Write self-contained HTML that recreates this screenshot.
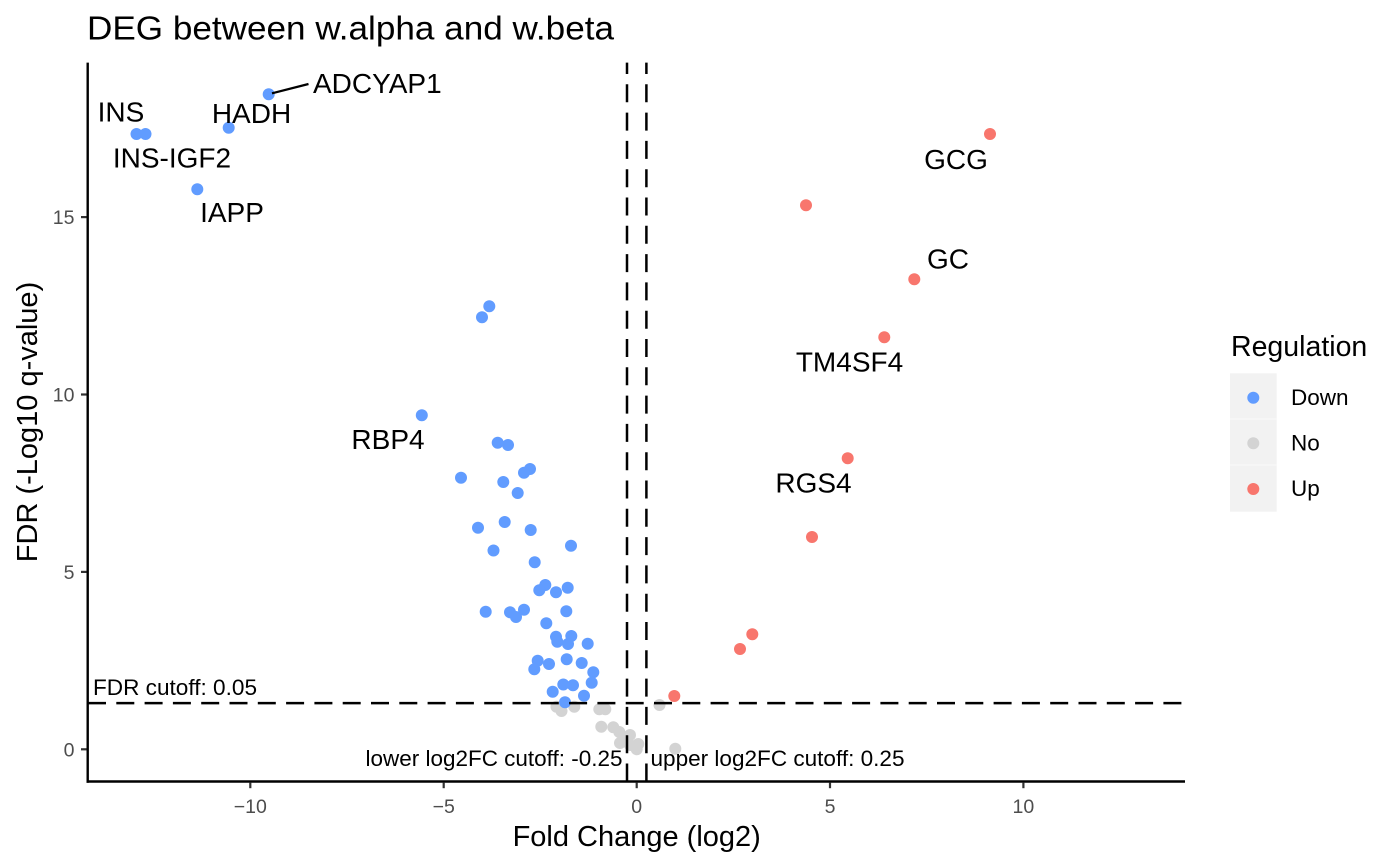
<!DOCTYPE html>
<html>
<head>
<meta charset="utf-8">
<style>
  html, body { margin: 0; padding: 0; background: #ffffff; }
  svg { display: block; }
  text { font-family: "Liberation Sans", Arial, Helvetica, sans-serif; }
</style>
</head>
<body>
<svg width="1400" height="866" viewBox="0 0 1400 866" xmlns="http://www.w3.org/2000/svg">
  <rect x="0" y="0" width="1400" height="866" fill="#ffffff"/>

  <text x="87" y="39.5" font-size="33.5" fill="#000" textLength="527" lengthAdjust="spacingAndGlyphs">DEG between w.alpha and w.beta</text>

  <g fill="#D3D3D3">
    <circle cx="556.5" cy="706.7" r="6"/>
    <circle cx="561.5" cy="711" r="6"/>
    <circle cx="574.3" cy="706.7" r="6"/>
    <circle cx="599.3" cy="709.3" r="6"/>
    <circle cx="605.3" cy="709.3" r="6"/>
    <circle cx="659.5" cy="705" r="6"/>
    <circle cx="601.3" cy="726.7" r="6"/>
    <circle cx="613.3" cy="727.3" r="6"/>
    <circle cx="619.3" cy="732" r="6"/>
    <circle cx="630" cy="735" r="6"/>
    <circle cx="623.3" cy="740" r="6"/>
    <circle cx="620" cy="743" r="6"/>
    <circle cx="630" cy="745" r="6"/>
    <circle cx="638.3" cy="744" r="6"/>
    <circle cx="636.7" cy="749.3" r="6"/>
    <circle cx="675.3" cy="748.7" r="6"/>
  </g>

  <g fill="#619CFF">
    <circle cx="268.7" cy="94.3" r="6"/>
    <circle cx="228.7" cy="127.7" r="6"/>
    <circle cx="136.5" cy="134" r="6"/>
    <circle cx="145.5" cy="134" r="6"/>
    <circle cx="197.3" cy="189.3" r="6"/>
    <circle cx="489.3" cy="306.3" r="6"/>
    <circle cx="482" cy="317.3" r="6"/>
    <circle cx="421.8" cy="415.3" r="6"/>
    <circle cx="497.7" cy="442.7" r="6"/>
    <circle cx="508" cy="445" r="6"/>
    <circle cx="530" cy="469" r="6"/>
    <circle cx="524" cy="472.7" r="6"/>
    <circle cx="461" cy="477.7" r="6"/>
    <circle cx="503.3" cy="482" r="6"/>
    <circle cx="517.7" cy="493" r="6"/>
    <circle cx="478" cy="527.7" r="6"/>
    <circle cx="504.7" cy="522" r="6"/>
    <circle cx="530.7" cy="530" r="6"/>
    <circle cx="571" cy="545.7" r="6"/>
    <circle cx="493.5" cy="550.5" r="6"/>
    <circle cx="534.7" cy="562.3" r="6"/>
    <circle cx="545.3" cy="585" r="6"/>
    <circle cx="539.3" cy="590.3" r="6"/>
    <circle cx="556" cy="592.3" r="6"/>
    <circle cx="567.7" cy="587.7" r="6"/>
    <circle cx="485.7" cy="611.7" r="6"/>
    <circle cx="510" cy="612.3" r="6"/>
    <circle cx="516" cy="617" r="6"/>
    <circle cx="524" cy="609.7" r="6"/>
    <circle cx="566.3" cy="611.3" r="6"/>
    <circle cx="546.3" cy="623.3" r="6"/>
    <circle cx="556" cy="636.7" r="6"/>
    <circle cx="557.3" cy="641.7" r="6"/>
    <circle cx="571.3" cy="636" r="6"/>
    <circle cx="568" cy="644" r="6"/>
    <circle cx="587.7" cy="643.7" r="6"/>
    <circle cx="537.7" cy="660.7" r="6"/>
    <circle cx="534.3" cy="669.3" r="6"/>
    <circle cx="549" cy="664" r="6"/>
    <circle cx="566.7" cy="659.3" r="6"/>
    <circle cx="581.7" cy="663" r="6"/>
    <circle cx="593.3" cy="672.3" r="6"/>
    <circle cx="591.7" cy="682.7" r="6"/>
    <circle cx="563.3" cy="684.5" r="6"/>
    <circle cx="573" cy="685.3" r="6"/>
    <circle cx="552.7" cy="691.7" r="6"/>
    <circle cx="584" cy="695.7" r="6"/>
    <circle cx="565" cy="702.3" r="6"/>
  </g>

  <g fill="#F8766D">
    <circle cx="990" cy="134" r="6"/>
    <circle cx="806" cy="205.3" r="6"/>
    <circle cx="914.3" cy="279.3" r="6"/>
    <circle cx="884.3" cy="337.3" r="6"/>
    <circle cx="847.7" cy="458.3" r="6"/>
    <circle cx="812" cy="537" r="6"/>
    <circle cx="752.3" cy="634.3" r="6"/>
    <circle cx="740" cy="649" r="6"/>
    <circle cx="674.3" cy="696" r="6"/>
  </g>

  <g stroke="#000" stroke-width="2.5" stroke-dasharray="18 10.3" fill="none">
    <line x1="88" y1="703.1" x2="1185" y2="703.1"/>
    <line x1="627.0" y1="781.5" x2="627.0" y2="62.6"/>
    <line x1="646.4" y1="781.5" x2="646.4" y2="62.6"/>
  </g>

  <text x="93" y="695" font-size="22" fill="#000" textLength="164" lengthAdjust="spacingAndGlyphs">FDR cutoff: 0.05</text>
  <text x="622.5" y="766" font-size="22" fill="#000" text-anchor="end" textLength="257" lengthAdjust="spacingAndGlyphs">lower log2FC cutoff: -0.25</text>
  <text x="650.5" y="766" font-size="22" fill="#000" textLength="254" lengthAdjust="spacingAndGlyphs">upper log2FC cutoff: 0.25</text>

  <line x1="272" y1="93.3" x2="308.5" y2="84" stroke="#000" stroke-width="2.2"/>
  <g font-size="28" fill="#000">
    <text x="313" y="93">ADCYAP1</text>
    <text x="121" y="121.5" text-anchor="middle">INS</text>
    <text x="251.5" y="123" text-anchor="middle">HADH</text>
    <text x="172" y="167.5" text-anchor="middle">INS-IGF2</text>
    <text x="232" y="222" text-anchor="middle">IAPP</text>
    <text x="388" y="449" text-anchor="middle">RBP4</text>
    <text x="956" y="169" text-anchor="middle">GCG</text>
    <text x="948" y="268.3" text-anchor="middle">GC</text>
    <text x="849.5" y="371.5" text-anchor="middle">TM4SF4</text>
    <text x="813.5" y="492.3" text-anchor="middle">RGS4</text>
  </g>

  <g stroke="#000" stroke-width="2.4" fill="none">
    <line x1="87.7" y1="62.6" x2="87.7" y2="782.7"/>
    <line x1="86.5" y1="781.5" x2="1185" y2="781.5"/>
  </g>
  <g stroke="#333333" stroke-width="2.2" fill="none">
    <line x1="250.3" y1="782.6" x2="250.3" y2="788.2"/>
    <line x1="443.7" y1="782.6" x2="443.7" y2="788.2"/>
    <line x1="636.7" y1="782.6" x2="636.7" y2="788.2"/>
    <line x1="830" y1="782.6" x2="830" y2="788.2"/>
    <line x1="1023.4" y1="782.6" x2="1023.4" y2="788.2"/>
    <line x1="81" y1="749.3" x2="86.6" y2="749.3"/>
    <line x1="81" y1="571.9" x2="86.6" y2="571.9"/>
    <line x1="81" y1="394.5" x2="86.6" y2="394.5"/>
    <line x1="81" y1="217.1" x2="86.6" y2="217.1"/>
  </g>
  <g font-size="19.5" fill="#4D4D4D" text-anchor="middle">
    <text x="250.3" y="813">−10</text>
    <text x="443.7" y="813">−5</text>
    <text x="636.7" y="813">0</text>
    <text x="830" y="813">5</text>
    <text x="1023.4" y="813">10</text>
  </g>
  <g font-size="19.5" fill="#4D4D4D" text-anchor="end">
    <text x="74.5" y="756.3">0</text>
    <text x="74.5" y="578.9">5</text>
    <text x="74.5" y="401.5">10</text>
    <text x="74.5" y="224.1">15</text>
  </g>

  <text x="636.7" y="846" font-size="29" fill="#000" text-anchor="middle">Fold Change (log2)</text>
  <text transform="translate(37,422) rotate(-90)" x="0" y="0" font-size="29" fill="#000" text-anchor="middle">FDR (-Log10 q-value)</text>

  <text x="1231" y="356" font-size="28.5" fill="#000">Regulation</text>
  <rect x="1230" y="373.3" width="46.7" height="138.4" fill="#F2F2F2"/>
  <line x1="1230" y1="419" x2="1276.7" y2="419" stroke="#ffffff" stroke-width="0.6"/>
  <line x1="1230" y1="465" x2="1276.7" y2="465" stroke="#ffffff" stroke-width="0.6"/>
  <circle cx="1253.3" cy="397.7" r="6" fill="#619CFF"/>
  <circle cx="1253.3" cy="443.3" r="6" fill="#D3D3D3"/>
  <circle cx="1253.3" cy="489" r="6" fill="#F8766D"/>
  <g font-size="22.5" fill="#000">
    <text x="1291" y="405">Down</text>
    <text x="1291" y="450.5">No</text>
    <text x="1291" y="496">Up</text>
  </g>
</svg>
</body>
</html>
